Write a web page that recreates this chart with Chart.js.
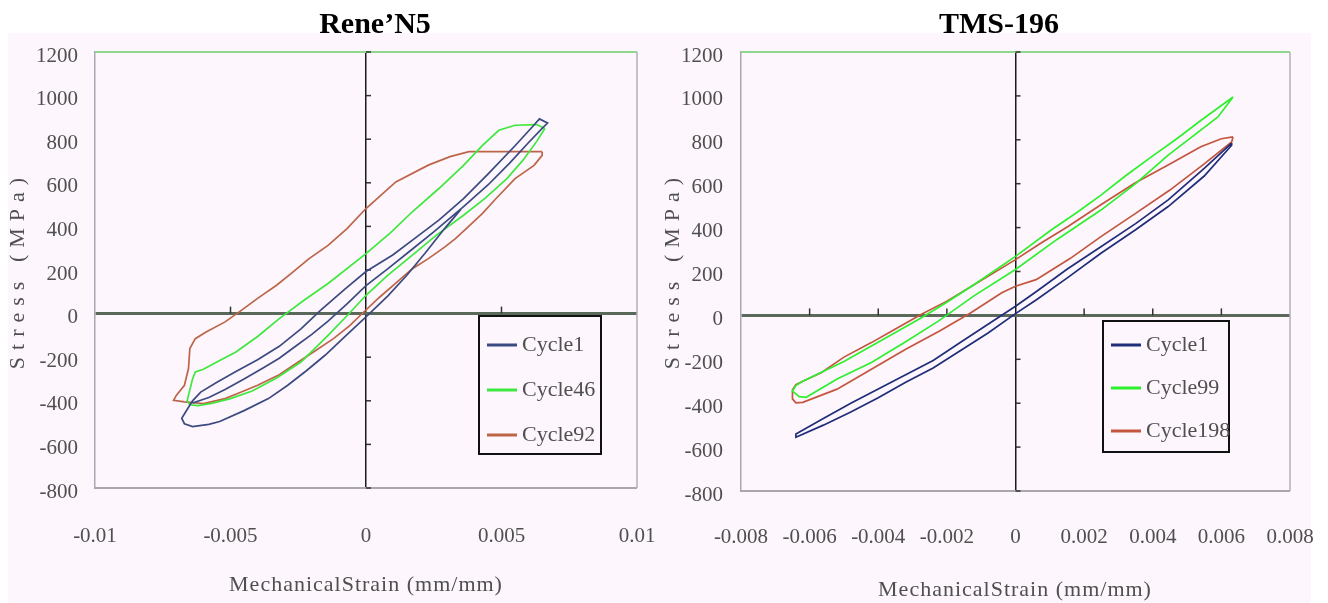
<!DOCTYPE html>
<html>
<head>
<meta charset="utf-8">
<script src="https://cdn.jsdelivr.net/npm/chart.js@4.4.1/dist/chart.umd.min.js"></script>
<style>
html, body { margin: 0; padding: 0; background: #fff; }
#wrap { position: relative; width: 1328px; height: 603px; }
canvas { position: absolute; top: 0; }
#reneChart { left: 0; }
#tmsChart { left: 664px; }
</style>
</head>
<body>
<div id="wrap">
  <canvas id="reneChart" width="664" height="603"></canvas>
  <canvas id="tmsChart" width="664" height="603"></canvas>
</div>
<script>
// --- Rene'N5 (left) ---
var reneXTicks = ['-0.01', '-0.005', '0', '0.005', '0.01'];
var stressTicks = ['-800', '-600', '-400', '-200', '0', '200', '400', '600', '800', '1000', '1200'];

var reneCycle1Strain = [-0.0064, -0.0058, -0.0052, -0.0045, -0.0038, -0.0032, -0.0026, -0.0020, -0.0014, -0.0007, 0, 0.0008, 0.0016, 0.0025, 0.0036, 0.0045, 0.0053, 0.0060, 0.0065, 0.0067, 0.0064, 0.0062,
  0.0055, 0.0045, 0.0036, 0.0027, 0.0018, 0.0010, 0, -0.0008, -0.0017, -0.0024, -0.0032, -0.0040, -0.0048, -0.0055, -0.0061, -0.0064,
  -0.0066, -0.0068, -0.0067, -0.0064,
  -0.0058, -0.0054, -0.0045, -0.0036, -0.0029, -0.0022, -0.0015, -0.0008, 0, 0.0008, 0.0015, 0.0022, 0.0029, 0.0035];
var reneCycle1Stress = [-410, -385, -348, -300, -250, -205, -150, -95, -35, 45, 128, 205, 285, 375, 491, 590, 690, 785, 850, 874, 893, 865,
  770, 640, 527, 430, 345, 270, 193, 110, 12, -70, -150, -212, -266, -315, -360, -400,
  -440, -480, -505, -518,
  -508, -495, -445, -390, -330, -262, -190, -108, -15, 80, 175, 280, 390, 478];

var reneCycle46Strain = [0.0066, 0.0063, 0.0058, 0.0052, 0.0044, 0.0036, 0.0026, 0.0017, 0.0008, 0, -0.0007, -0.0014, -0.0024, -0.0033, -0.0042, -0.0050, -0.0057, -0.0062, -0.0065,
  -0.0066, -0.0065, -0.0064, -0.0063, -0.0060, -0.0054, -0.0048, -0.0040, -0.0032, -0.0023, -0.0014, 0, 0.0009, 0.0017, 0.0027, 0.0036, 0.0043, 0.0049, 0.0055, 0.0063, 0.0066];
var reneCycle46Stress = [849, 790, 705, 619, 530, 451, 360, 267, 175, 84, -10, -100, -222, -295, -355, -390, -412, -422, -418,
  -400, -350, -300, -268, -255, -215, -176, -105, -23, 60, 138, 275, 370, 466, 575, 680, 772, 841, 864, 867, 849];

var reneCycle92Strain = [0.0065, 0.0052, 0.0038, 0.0031, 0.0023, 0.0011, 0, -0.0007, -0.0014, -0.0021, -0.0027, -0.0033, -0.0040, -0.0046, -0.0052, -0.0059, -0.0063, -0.0065, -0.00655, -0.0067, -0.0070, -0.0071,
  -0.0067, -0.0060, -0.0052, -0.0046, -0.0040, -0.0032, -0.0025, -0.0018, -0.0012, -0.0006, -0.0001, 0.0005, 0.0011, 0.0017, 0.0023, 0.0029, 0.0033, 0.0037, 0.0043, 0.0048, 0.0055, 0.0062, 0.0065, 0.0065];
var reneCycle92Stress = [743, 743, 743, 720, 681, 604, 482, 390, 313, 252, 190, 130, 70, 15, -38, -84, -115, -160, -252, -329, -375, -398,
  -405, -413, -390, -360, -329, -280, -222, -165, -115, -55, 5, 75, 140, 205, 252, 305, 344, 390, 460, 528, 619, 680, 726, 743];

// --- TMS-196 (right) ---
var tmsXTicks = ['-0.008', '-0.006', '-0.004', '-0.002', '0', '0.002', '0.004', '0.006', '0.008'];

var tmsCycle1Strain = [0.0063, 0.0055, 0.00445, 0.0035, 0.0025, 0.0015, 0.0006, 0, -0.0008, -0.0016, -0.0024, -0.0032, -0.0040, -0.0048, -0.0056, -0.0064,
  -0.0064, -0.0056, -0.0048, -0.0040, -0.0032, -0.0024, -0.0016, -0.0008, 0, 0.0006, 0.0015, 0.0025, 0.0035, 0.00445, 0.0055, 0.0063, 0.0063];
var tmsCycle1Stress = [785, 670, 526, 418, 314, 210, 108, 42, -40, -122, -205, -270, -335, -400, -470, -540,
  -555, -500, -440, -375, -305, -240, -160, -80, 8, 70, 170, 284, 390, 496, 635, 775, 785];

var tmsCycle99Strain = [0.00634, 0.0059, 0.00541, 0.0047, 0.00396, 0.0032, 0.0025, 0.0018, 0.00105, 0, -0.00128, -0.0020, -0.00274, -0.0035, -0.0042, -0.0050, -0.0057, -0.0062, -0.0064,
  -0.0065, -0.0063, -0.0061, -0.0052, -0.0042, -0.0032, -0.00225, -0.0012, 0, 0.0012, 0.0025, 0.0035, 0.00445, 0.0052, 0.0059, 0.00634];
var tmsCycle99Stress = [995, 945, 889, 805, 722, 635, 549, 470, 390, 269, 133, 60, -11, -78, -139, -210, -262, -300, -320,
  -345, -370, -373, -290, -215, -120, -26, 90, 209, 345, 481, 600, 730, 820, 904, 995];

var tmsCycle198Strain = [0.00634, 0.0060, 0.0054, 0.0045, 0.00347, 0.0025, 0.00153, 0.0007, 0, -0.00128, -0.0020, -0.00274, -0.0035, -0.0042, -0.0050, -0.00565, -0.0062, -0.0064,
  -0.0065, -0.0065, -0.0064, -0.0062, -0.0052, -0.0042, -0.0032, -0.0022, -0.0013, -0.0004, 0, 0.0006, 0.0016, 0.0025, 0.0035, 0.0045, 0.0055, 0.0063, 0.00634];
var tmsCycle198Stress = [813, 805, 768, 690, 602, 505, 405, 325, 254, 133, 65, 5, -62, -124, -190, -260, -300, -315,
  -340, -380, -398, -396, -336, -245, -154, -70, 12, 103, 133, 163, 260, 360, 465, 571, 690, 790, 813];

var bgColor = '#fdf6fc';
var textGray = '#4f4f4f';
Chart.defaults.font.family = '"Liberation Serif", "Times New Roman", serif';

// plugin with the decorations: panel background, title, extra borders, axis ticks, legend box, axis titles
function makeDeco(cfg) {
  return {
    id: 'deco',
    beforeDraw: function(chart) {
      var c = chart.ctx;
      c.save();
      c.fillStyle = bgColor;
      c.fillRect(cfg.bg[0], cfg.bg[1], cfg.bg[2], cfg.bg[3]);
      c.fillStyle = '#000';
      c.font = 'bold 30px "Liberation Serif"';
      c.textAlign = 'center';
      c.textBaseline = 'alphabetic';
      c.fillText(cfg.title, cfg.titleX, 33);
      c.restore();
    },
    beforeDatasetsDraw: function(chart) {
      var c = chart.ctx, a = chart.chartArea, xs = chart.scales.x, ys = chart.scales.y;
      var zx = xs.getPixelForValue(0), zy = ys.getPixelForValue(0);
      c.save();
      // top and right frame
      c.strokeStyle = '#8fd68f'; c.lineWidth = 2;
      c.beginPath(); c.moveTo(a.left, a.top); c.lineTo(a.right, a.top); c.stroke();
      c.strokeStyle = '#b3afb8'; c.lineWidth = 1.5;
      c.beginPath(); c.moveTo(a.right, a.top); c.lineTo(a.right, a.bottom); c.stroke();
      // tick marks on the zero axes
      c.strokeStyle = '#333'; c.lineWidth = 1.5;
      xs.ticks.forEach(function(t) {
        if (Math.abs(t.value) < 1e-9 || t.value === xs.min || t.value === xs.max) return;
        var px = xs.getPixelForValue(t.value);
        c.beginPath(); c.moveTo(px, zy); c.lineTo(px, zy - 7); c.stroke();
      });
      ys.ticks.forEach(function(t) {
        if (t.value === 0) return;
        var py = ys.getPixelForValue(t.value);
        c.beginPath(); c.moveTo(zx, py); c.lineTo(zx + 5, py); c.stroke();
      });
      c.restore();
    },
    afterDraw: function(chart) {
      var c = chart.ctx;
      c.save();
      // legend box
      var b = cfg.legend;
      c.fillStyle = bgColor;
      c.fillRect(b.x, b.y, b.w, b.h);
      c.strokeStyle = '#111'; c.lineWidth = 2;
      c.strokeRect(b.x, b.y, b.w, b.h);
      c.font = '22px "Liberation Serif"';
      c.textAlign = 'left'; c.textBaseline = 'middle';
      chart.data.datasets.forEach(function(ds, i) {
        var ry = b.y + b.rows[i];
        c.strokeStyle = ds.borderColor; c.lineWidth = 3;
        c.beginPath(); c.moveTo(b.x + 8, ry); c.lineTo(b.x + 38, ry); c.stroke();
        c.fillStyle = textGray;
        c.fillText(ds.label, b.x + 43, ry);
      });
      // axis titles
      c.fillStyle = textGray;
      c.textAlign = 'center'; c.textBaseline = 'middle';
      c.font = '22px "Liberation Serif"';
      try { c.letterSpacing = '1px'; } catch (e) {}
      c.fillText('MechanicalStrain (mm/mm)', cfg.xTitle[0], cfg.xTitle[1]);
      try { c.letterSpacing = '7px'; } catch (e) {}
      c.translate(cfg.yTitle[0], cfg.yTitle[1]);
      c.rotate(-Math.PI / 2);
      c.fillText('Stress (MPa)', 0, 0);
      c.restore();
    }
  };
}

function buildChart(id, s) {
  var datasets = s.series.map(function(ser) {
    return {
      label: ser.label,
      data: ser.strain.map(function(v, i) { return { x: v, y: ser.stress[i] }; }),
      borderColor: ser.color,
      borderWidth: 1.7,
      showLine: true,
      pointRadius: 0,
      fill: false,
      tension: 0
    };
  });
  return new Chart(document.getElementById(id), {
    type: 'scatter',
    data: { datasets: datasets },
    options: {
      responsive: false,
      animation: false,
      layout: { padding: { top: 52, right: s.padRight, bottom: 0, left: 0 } },
      plugins: { legend: { display: false }, tooltip: { enabled: false } },
      scales: {
        x: {
          type: 'linear', min: s.xMin, max: s.xMax,
          ticks: { stepSize: s.xStep, autoSkip: false, maxRotation: 0, padding: s.xPad, color: textGray, font: { size: 21 },
            callback: function(v, i) { return s.xLabels[i]; } },
          grid: { drawTicks: false,
            color: function(ctx) { return Math.abs(ctx.tick.value) < 1e-9 ? '#1a1a1a' : 'rgba(0,0,0,0)'; },
            lineWidth: function(ctx) { return Math.abs(ctx.tick.value) < 1e-9 ? 1.5 : 0; } },
          border: { color: '#a9a6ad', width: 2 },
          afterFit: function(sc) { sc.height = s.xHeight; sc.paddingLeft = 0; sc.paddingRight = 0; }
        },
        y: {
          type: 'linear', min: -800, max: 1200,
          ticks: { stepSize: 200, autoSkip: false, padding: s.yPad, labelOffset: 4, color: textGray, font: { size: 21 },
            callback: function(v, i) { return stressTicks[i]; } },
          grid: { drawTicks: false,
            color: function(ctx) { return ctx.tick.value === 0 ? '#5b695b' : 'rgba(0,0,0,0)'; },
            lineWidth: function(ctx) { return ctx.tick.value === 0 ? 3 : 0; } },
          border: { color: '#aaa6b2', width: 1.5 },
          afterFit: function(sc) { sc.width = s.yWidth; sc.paddingTop = 0; sc.paddingBottom = 0; }
        }
      }
    },
    plugins: [makeDeco(s.deco)]
  });
}

buildChart('reneChart', {
  xMin: -0.01, xMax: 0.01, xStep: 0.005, xLabels: reneXTicks,
  padRight: 27, yWidth: 95, xHeight: 115, xPad: 36, yPad: 17,
  series: [
    { label: 'Cycle1', strain: reneCycle1Strain, stress: reneCycle1Stress, color: '#3b4a80' },
    { label: 'Cycle46', strain: reneCycle46Strain, stress: reneCycle46Stress, color: '#3ee83e' },
    { label: 'Cycle92', strain: reneCycle92Strain, stress: reneCycle92Stress, color: '#bd6549' }
  ],
  deco: {
    bg: [8, 33, 656, 570], title: 'Rene’N5', titleX: 375,
    legend: { x: 479, y: 316, w: 122, h: 138, rows: [29, 74, 119] },
    xTitle: [366, 585], yTitle: [18, 270]
  }
});

buildChart('tmsChart', {
  xMin: -0.008, xMax: 0.008, xStep: 0.002, xLabels: tmsXTicks,
  padRight: 38, yWidth: 77, xHeight: 112, xPad: 34, yPad: 18,
  series: [
    { label: 'Cycle1', strain: tmsCycle1Strain, stress: tmsCycle1Stress, color: '#1f2d7a' },
    { label: 'Cycle99', strain: tmsCycle99Strain, stress: tmsCycle99Stress, color: '#2ef02e' },
    { label: 'Cycle198', strain: tmsCycle198Strain, stress: tmsCycle198Stress, color: '#c4553e' }
  ],
  deco: {
    bg: [0, 33, 647, 570], title: 'TMS-196', titleX: 335,
    legend: { x: 439, y: 321, w: 126, h: 131, rows: [24, 67, 110] },
    xTitle: [351, 590], yTitle: [9, 270]
  }
});
</script>
</body>
</html>
